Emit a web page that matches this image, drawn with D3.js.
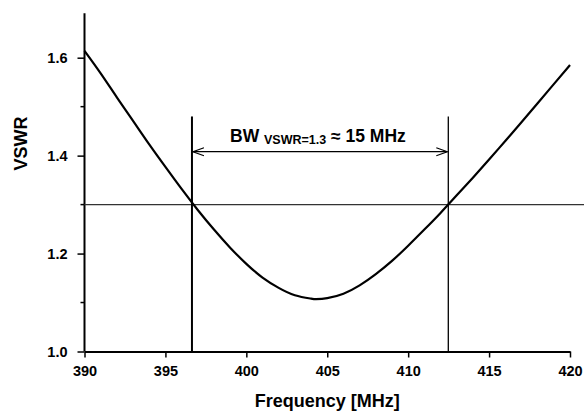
<!DOCTYPE html>
<html lang="en">
<head>
<meta charset="UTF-8">
<title>VSWR vs frequency</title>
<script src="https://d3js.org/d3.v7.min.js"></script>
<style>
    body { margin: 0; background: #fff; font-family: "Liberation Sans", Arial, sans-serif; }
    svg text { font-weight: bold; fill: #000; }
    .tick text { font-size: 14.5px; }
</style>
</head>
<body>
<script>
    // curve
    const freq = [390, 391, 392, 393, 394, 395, 396, 397, 398, 399, 400, 401, 402, 403, 404, 404.3, 405, 406, 407, 408, 409, 410, 411, 412, 413, 414, 415, 416, 417, 418, 419, 420];
    const vswr = [1.614, 1.568, 1.519, 1.471, 1.423, 1.377, 1.332, 1.289, 1.249, 1.212, 1.179, 1.151, 1.130, 1.115, 1.108, 1.107, 1.109, 1.118, 1.135, 1.158, 1.185, 1.216, 1.249, 1.283, 1.319, 1.355, 1.392, 1.430, 1.468, 1.507, 1.546, 1.585];
    const xTicks = [390, 395, 400, 405, 410, 415, 420];
    const yTicks = [1.0, 1.2, 1.4, 1.6];
    const yMinor = [1.1, 1.3, 1.5];
    const level = 1.3;
    const bwEdges = [396.64, 412.48];
    const bwTop = 1.48, arrowAt = 1.408;

    const W = 584, H = 413;
    const svg = d3.select("body").append("svg").attr("width", W).attr("height", H);

    const x = d3.scaleLinear().domain([390, 420]).range([84.5, 570]);
    const y = d3.scaleLinear().domain([1.0, 1.6]).range([351.5, 57.7]);
    const yTop = 1.691;

    // axes
    const xAxis = svg.append("g").attr("transform", `translate(0,${y(1.0)})`)
        .call(d3.axisBottom(x).tickValues(xTicks).tickSize(6).tickSizeOuter(0).tickPadding(8));
    xAxis.select(".domain").attr("stroke-width", 2);
    xAxis.selectAll(".tick line").attr("stroke-width", 1.5);

    const yAxis = svg.append("g").attr("transform", `translate(${x(390)},0)`)
        .call(d3.axisLeft(y).tickValues(yTicks).tickFormat(d3.format(".1f")).tickSize(7).tickPadding(10));
    yAxis.select(".domain").remove();
    yAxis.selectAll(".tick line").attr("stroke-width", 1.5);
    yAxis.append("line").attr("y1", y(yTop)).attr("y2", y(1.0)).attr("stroke", "#000").attr("stroke-width", 2);
    yAxis.selectAll(".minor").data(yMinor).join("line")
        .attr("x1", -4).attr("x2", 0).attr("y1", d => y(d)).attr("y2", d => y(d))
        .attr("stroke", "#000").attr("stroke-width", 1.5);
    svg.selectAll(".tick text").attr("font-family", "Liberation Sans, Arial, sans-serif");

    // VSWR = 1.3 level
    svg.append("line")
        .attr("x1", x(390)).attr("x2", W)
        .attr("y1", y(level)).attr("y2", y(level))
        .attr("stroke", "#333").attr("stroke-width", 1.2);

    // band edges
    svg.selectAll(".edge").data(bwEdges).join("line")
        .attr("x1", d => x(d)).attr("x2", d => x(d))
        .attr("y1", y(bwTop)).attr("y2", y(1.0))
        .attr("stroke", "#000").attr("stroke-width", (d, i) => i === 0 ? 2 : 1.3);

    // curve
    const line = d3.line().x(d => x(d[0])).y(d => y(d[1])).curve(d3.curveNatural);
    svg.append("path").datum(d3.zip(freq, vswr))
        .attr("d", line).attr("fill", "none").attr("stroke", "#000").attr("stroke-width", 2.2);

    // bandwidth arrow
    const ay = y(arrowAt), ax0 = x(bwEdges[0]) + 1, ax1 = x(bwEdges[1]) - 1;
    svg.append("line").attr("x1", ax0).attr("x2", ax1).attr("y1", ay).attr("y2", ay)
        .attr("stroke", "#000").attr("stroke-width", 1.2);
    svg.append("path")
        .attr("d", `M${ax0 + 11},${ay - 4}L${ax0},${ay}L${ax0 + 11},${ay + 4}M${ax1 - 11},${ay - 4}L${ax1},${ay}L${ax1 - 11},${ay + 4}`)
        .attr("fill", "none").attr("stroke", "#000").attr("stroke-width", 1.2);

    const label = svg.append("text").attr("x", 230).attr("y", 141.7).attr("font-size", 17.5);
    label.append("tspan").text("BW ");
    label.append("tspan").attr("font-size", 12.5).attr("dy", 2).text("VSWR=1.3");
    label.append("tspan").attr("dy", -2).text(" \u2248 15 MHz");

    // axis titles
    svg.append("text").attr("x", (x(390) + x(420)) / 2).attr("y", 407)
        .attr("text-anchor", "middle").attr("font-size", 18).text("Frequency [MHz]");
    svg.append("text").attr("transform", `translate(27,143.5) rotate(-90)`)
        .attr("text-anchor", "middle").attr("font-size", 18).text("VSWR");
</script>
</body>
</html>
